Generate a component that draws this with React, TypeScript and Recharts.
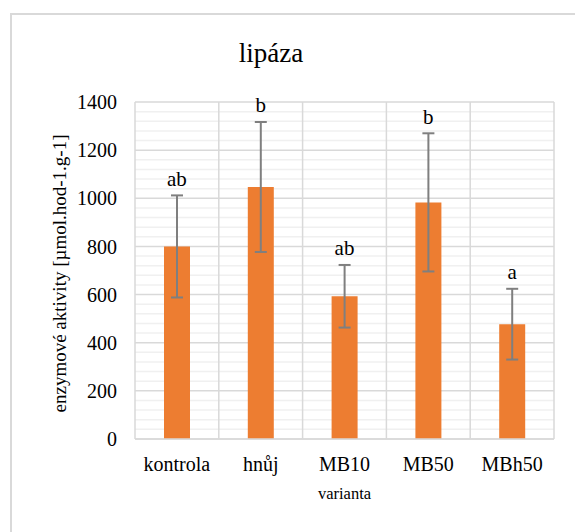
import {
  ComposedChart,
  Bar,
  ErrorBar,
  Scatter,
  LabelList,
  XAxis,
  YAxis,
  CartesianGrid,
  Label,
} from 'recharts';

const categories = ['kontrola', 'hnůj', 'MB10', 'MB50', 'MBh50'];
const means = [800, 1047, 593, 983, 477];
const errors = [212, 270, 130, 287, 147];
const letters = ['ab', 'b', 'ab', 'b', 'a'];
const yTicks = [0, 200, 400, 600, 800, 1000, 1200, 1400];
const minorTicks = Array.from({ length: 36 }, (_, i) => i * 40).filter((v) => v % 200 !== 0);

const data = categories.map((name, i) => ({
  name,
  value: means[i],
  err: errors[i],
  top: means[i] + errors[i],
  letter: letters[i],
}));

const font = "'Liberation Serif', Tinos, 'Times New Roman', Times, 'DejaVu Serif', serif";

// vertical grid lines sit on the category boundaries, not on the tick centres
const boundaryLines = ({ offset }: any) =>
  Array.from({ length: categories.length + 1 }, (_, i) => offset.left + (i * offset.width) / categories.length);

export default function App() {
  return (
    <div style={{ position: 'absolute', left: 0, top: 0, width: 575, height: 532, overflow: 'hidden', background: '#fff', fontFamily: font }}>
      <div style={{ position: 'absolute', left: 10, top: 13, width: 700, height: 700, border: '2px solid #d9d9d9' }} />
      <div style={{ position: 'absolute', left: 0, top: 40, width: 542, textAlign: 'center', fontSize: 27, lineHeight: '27px', color: '#000', fontFamily: font }}>
        lipáza
      </div>
      <div style={{ position: 'absolute', left: 0, top: 0 }}>
        <ComposedChart
          width={575}
          height={532}
          data={data}
          margin={{ top: 102, right: 21, bottom: 0, left: 0 }}
        >
          <CartesianGrid horizontalValues={minorTicks} vertical={false} stroke="#f0f0f0" strokeWidth={1.5} />
          <CartesianGrid horizontalValues={yTicks} verticalCoordinatesGenerator={boundaryLines} stroke="#d9d9d9" strokeWidth={1.5} />
          <XAxis
            dataKey="name"
            height={93}
            tickLine={false}
            tickSize={0}
            tickMargin={18}
            axisLine={{ stroke: '#d9d9d9', strokeWidth: 1.5 }}
            tick={{ fontSize: 20, fill: '#000', fontFamily: font }}
          >
            <Label
              content={(p: any) => {
                const vb = p.viewBox;
                return (
                  <text x={vb.x + vb.width / 2} y={vb.y + 60} textAnchor="middle" fontSize={16.5} fill="#000" fontFamily={font}>
                    varianta
                  </text>
                );
              }}
            />
          </XAxis>
          <YAxis
            width={135}
            domain={[0, 1400]}
            ticks={yTicks}
            interval={0}
            tickLine={false}
            axisLine={false}
            tickSize={0}
            tickMargin={18}
            tick={{ fontSize: 20, fill: '#000', fontFamily: font }}
          >
            <Label
              content={(p: any) => {
                const vb = p.viewBox;
                const cx = vb.x + 66;
                const cy = vb.y + vb.height / 2 + 3;
                return (
                  <text x={cx} y={cy} transform={`rotate(-90, ${cx}, ${cy})`} textAnchor="middle" fontSize={19} fill="#000" fontFamily={font}>
                    enzymové aktivity [µmol.hod-1.g-1]
                  </text>
                );
              }}
            />
          </YAxis>
          <Bar dataKey="value" fill="#ED7D31" barSize={26} isAnimationActive={false}>
            <ErrorBar dataKey="err" stroke="#7f7f7f" strokeWidth={2} width={6} isAnimationActive={false} />
          </Bar>
          <Scatter dataKey="top" shape={() => <g />} isAnimationActive={false}>
            <LabelList dataKey="letter" position="top" offset={5} fill="#000" fontSize={21} fontFamily={font} />
          </Scatter>
        </ComposedChart>
      </div>
    </div>
  );
}
